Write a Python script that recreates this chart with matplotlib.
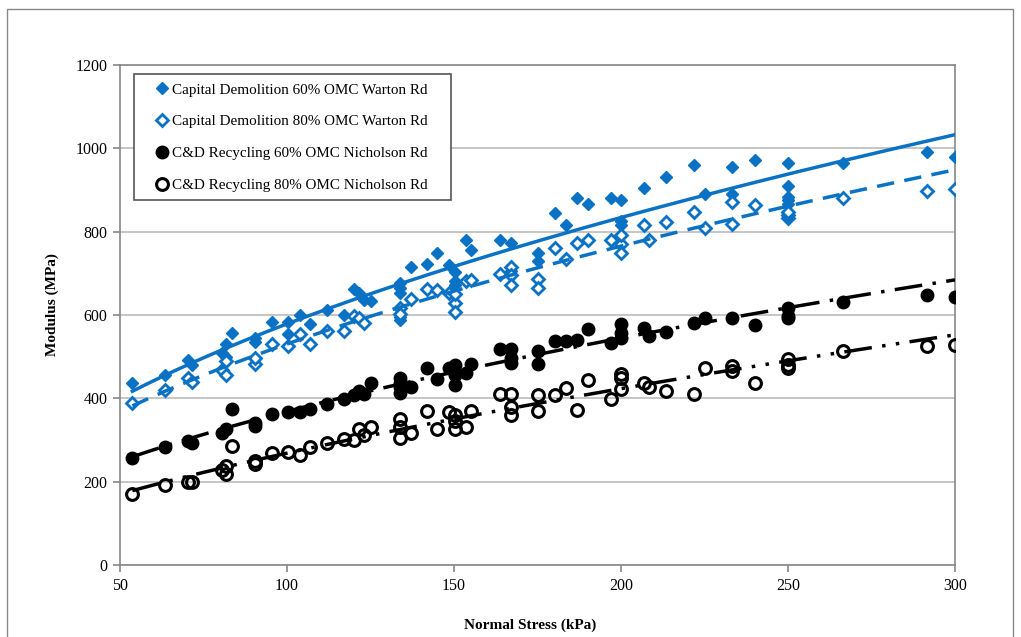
import numpy as np
import matplotlib
matplotlib.use('Agg')
from matplotlib import pyplot as plt
from matplotlib.patches import Rectangle

# Capital Demolition 60% OMC Warton Rd (filled diamonds)
cd60_x = [53.7, 63.6, 70.5, 71.5, 80.6, 81.6, 81.6, 83.5, 90.4, 90.4, 95.4, 100.3, 100.3, 103.8, 107,
          112, 117, 120.2, 121.6, 123, 125, 133.7, 133.7, 133.7, 133.7, 133.7, 137, 142, 145, 148.5,
          150.2, 150.2, 150.2, 153.5, 155, 163.7, 167, 167, 167, 175.2, 175.2, 180.3, 183.6, 186.7,
          190.2, 197, 200, 200, 200, 207, 213.4, 221.8, 225, 233.3, 233.3, 240, 250, 250, 250, 250,
          250, 266.6, 291.6, 300]
cd60_y = [436, 457, 492, 480, 510, 530, 500, 557, 545, 535, 584, 584, 555, 600, 579,
          613, 600, 662, 652, 637, 633, 676, 666, 652, 589, 596, 715, 722, 749, 720,
          703, 681, 671, 780, 757, 779, 774, 715, 705, 749, 730, 844, 815, 880,
          866, 882, 876, 817, 825, 905, 931, 960, 890, 956, 890, 973, 965, 910, 876, 866,
          884, 965, 991, 980]

# Capital Demolition 80% OMC Warton Rd (open diamonds)
cd80_x = [53.7, 63.6, 70.5, 71.5, 80.6, 81.6, 81.6, 90.4, 90.4, 95.4, 100.3, 103.8, 107, 112, 117,
          120.2, 121.6, 123, 133.7, 133.7, 137, 142, 145, 148.5, 150.2, 150.2, 150.2, 153.5, 155,
          163.7, 167, 167, 167, 175.2, 175.2, 180.3, 183.6, 186.7, 190.2, 197, 200, 200, 200, 207,
          208.4, 213.4, 221.8, 225, 233.3, 233.3, 240, 250, 250, 250, 266.6, 291.6, 300]
cd80_y = [389, 421, 450, 440, 467, 457, 490, 482, 497, 530, 525, 555, 530, 562, 562,
          598, 594, 582, 618, 603, 638, 662, 660, 654, 628, 608, 650, 681, 683,
          699, 715, 695, 671, 686, 665, 761, 735, 774, 781, 781, 771, 793, 748, 815,
          779, 823, 847, 810, 871, 819, 865, 832, 839, 847, 881, 898, 903]

# C&D Recycling 60% OMC Nicholson Rd (filled circles)
cr60_x = [53.7, 63.6, 70.5, 71.5, 80.6, 81.6, 83.5, 90.4, 90.4, 95.4, 100.3, 103.8, 107, 112, 117,
          120.2, 121.6, 123, 125, 133.7, 133.7, 133.7, 133.7, 137, 142, 145, 148.5, 150.2, 150.2,
          150.2, 153.5, 155, 163.7, 167, 167, 167, 175.2, 175.2, 180.3, 183.6, 186.7, 190.2, 197,
          200, 200, 200, 207, 208.4, 213.4, 221.8, 225, 233.3, 240, 250, 250, 250, 266.6, 291.6, 300]
cr60_y = [258, 284, 297, 292, 316, 326, 375, 340, 333, 362, 367, 367, 375, 387, 399,
          409, 418, 411, 438, 448, 438, 428, 413, 428, 472, 447, 472, 479, 433,
          457, 462, 482, 518, 518, 498, 484, 482, 514, 537, 537, 540, 566, 532,
          579, 557, 545, 569, 549, 560, 581, 594, 592, 577, 592, 598, 618, 631, 647, 644]

# C&D Recycling 80% OMC Nicholson Rd (open circles)
cr80_x = [53.7, 63.6, 70.5, 71.5, 80.6, 81.6, 81.6, 83.5, 90.4, 90.4, 95.4, 100.3, 103.8, 107, 112,
          117, 120.2, 121.6, 123, 125, 133.7, 133.7, 133.7, 137, 142, 145, 148.5, 150.2, 150.2,
          150.2, 153.5, 155, 163.7, 167, 167, 167, 175.2, 175.2, 180.3, 183.6, 186.7, 190.2, 197,
          200, 200, 200, 207, 208.4, 213.4, 221.8, 225, 233.3, 233.3, 240, 250, 250, 250, 266.6,
          291.6, 300]
cr80_y = [170, 192, 200, 200, 229, 238, 219, 285, 243, 250, 268, 272, 265, 284, 294,
          303, 301, 326, 311, 331, 350, 331, 306, 316, 370, 326, 367, 360, 326,
          345, 331, 369, 411, 411, 380, 360, 369, 407, 409, 426, 372, 443, 399,
          459, 448, 423, 436, 428, 417, 411, 472, 477, 465, 438, 494, 479, 472, 514,
          525, 527]

labels = ['Capital Demolition 60% OMC Warton Rd',
          'Capital Demolition 80% OMC Warton Rd',
          'C&D Recycling 60% OMC Nicholson Rd',
          'C&D Recycling 80% OMC Nicholson Rd']

blue = '#0A72C4'
serif = ['Liberation Serif', 'DejaVu Serif']

def power_fit(x, y):
    # power trendline like a spreadsheet: y = a * x^b
    b, lna = np.polyfit(np.log(x), np.log(y), 1)
    xs = np.linspace(min(x), 300, 200)
    return xs, np.exp(lna) * xs ** b

W, H = 1021, 637
fig = plt.figure(figsize=(W / 100, H / 100), dpi=100)
fig.patches.append(Rectangle((7 / W, -0.05), 1006 / W, 1 - 9 / H + 0.05,
                             transform=fig.transFigure, fill=False,
                             edgecolor='#888888', linewidth=1.0))
ax = fig.add_axes([120 / W, 1 - 565 / H, 835 / W, 500 / H])

ax.plot(cd60_x, cd60_y, 'D', color=blue, markersize=6.5, label=labels[0], zorder=3)
ax.plot(cd80_x, cd80_y, 'D', color=blue, markerfacecolor='white', markeredgewidth=2,
        markersize=6, label=labels[1], zorder=3)
ax.plot(cr60_x, cr60_y, 'o', color='black', markersize=9, label=labels[2], zorder=3)
ax.plot(cr80_x, cr80_y, 'o', color='black', markerfacecolor='none', markeredgewidth=2.2,
        markersize=8.5, label=labels[3], zorder=3)

xs, ys = power_fit(cd60_x, cd60_y)
ax.plot(xs, ys, '-', color=blue, linewidth=2.5, zorder=4)
xs, ys = power_fit(cd80_x, cd80_y)
ax.plot(xs, ys, color=blue, linewidth=2.5, dashes=(5, 3), zorder=4)
xs, ys = power_fit(cr60_x, cr60_y)
ax.plot(xs, ys, color='black', linewidth=2.5, dashes=(8, 3, 1, 3), zorder=4)
xs, ys = power_fit(cr80_x, cr80_y)
ax.plot(xs, ys, color='black', linewidth=2.5, dashes=(8, 3, 1, 3, 1, 3), zorder=4)

ax.set_xlim(50, 300)
ax.set_ylim(0, 1200)
ax.set_xticks(range(50, 301, 50))
ax.set_yticks(range(0, 1201, 200))
ax.yaxis.grid(True, color='#bbbbbb', linewidth=1.2)
ax.set_axisbelow(True)
for s in ax.spines.values():
    s.set_color('#888888')
    s.set_linewidth(1.2)
ax.tick_params(direction='out', length=5, color='#888888', width=1.2, pad=4)
for t in ax.get_xticklabels() + ax.get_yticklabels():
    t.set_family(serif)
    t.set_fontsize(11.5)

ax.set_xlabel('Normal Stress (kPa)', family=serif, fontsize=11, fontweight='bold', labelpad=18)
ax.set_ylabel('Modulus (MPa)', family=serif, fontsize=11, fontweight='bold', labelpad=12)
ax.xaxis.label.set_x(0.491)
ax.yaxis.label.set_y(0.52)

# legend box drawn by hand, entries placed inside it
ax.add_patch(Rectangle((134 / W, 1 - 200 / H), 317 / W, 126 / H, transform=fig.transFigure,
                       facecolor='white', edgecolor='#555555', linewidth=1.2, zorder=5))
leg = ax.legend(loc='upper left', bbox_to_anchor=(134 / W, 1 - 74 / H),
                bbox_transform=fig.transFigure, borderaxespad=0,
                prop={'family': serif, 'size': 10.9}, frameon=False,
                handlelength=2.5, handletextpad=-0.6,
                labelspacing=1.2, borderpad=0.6, numpoints=1)
leg.set_zorder(6)

fig.savefig('out.png', dpi=100)
